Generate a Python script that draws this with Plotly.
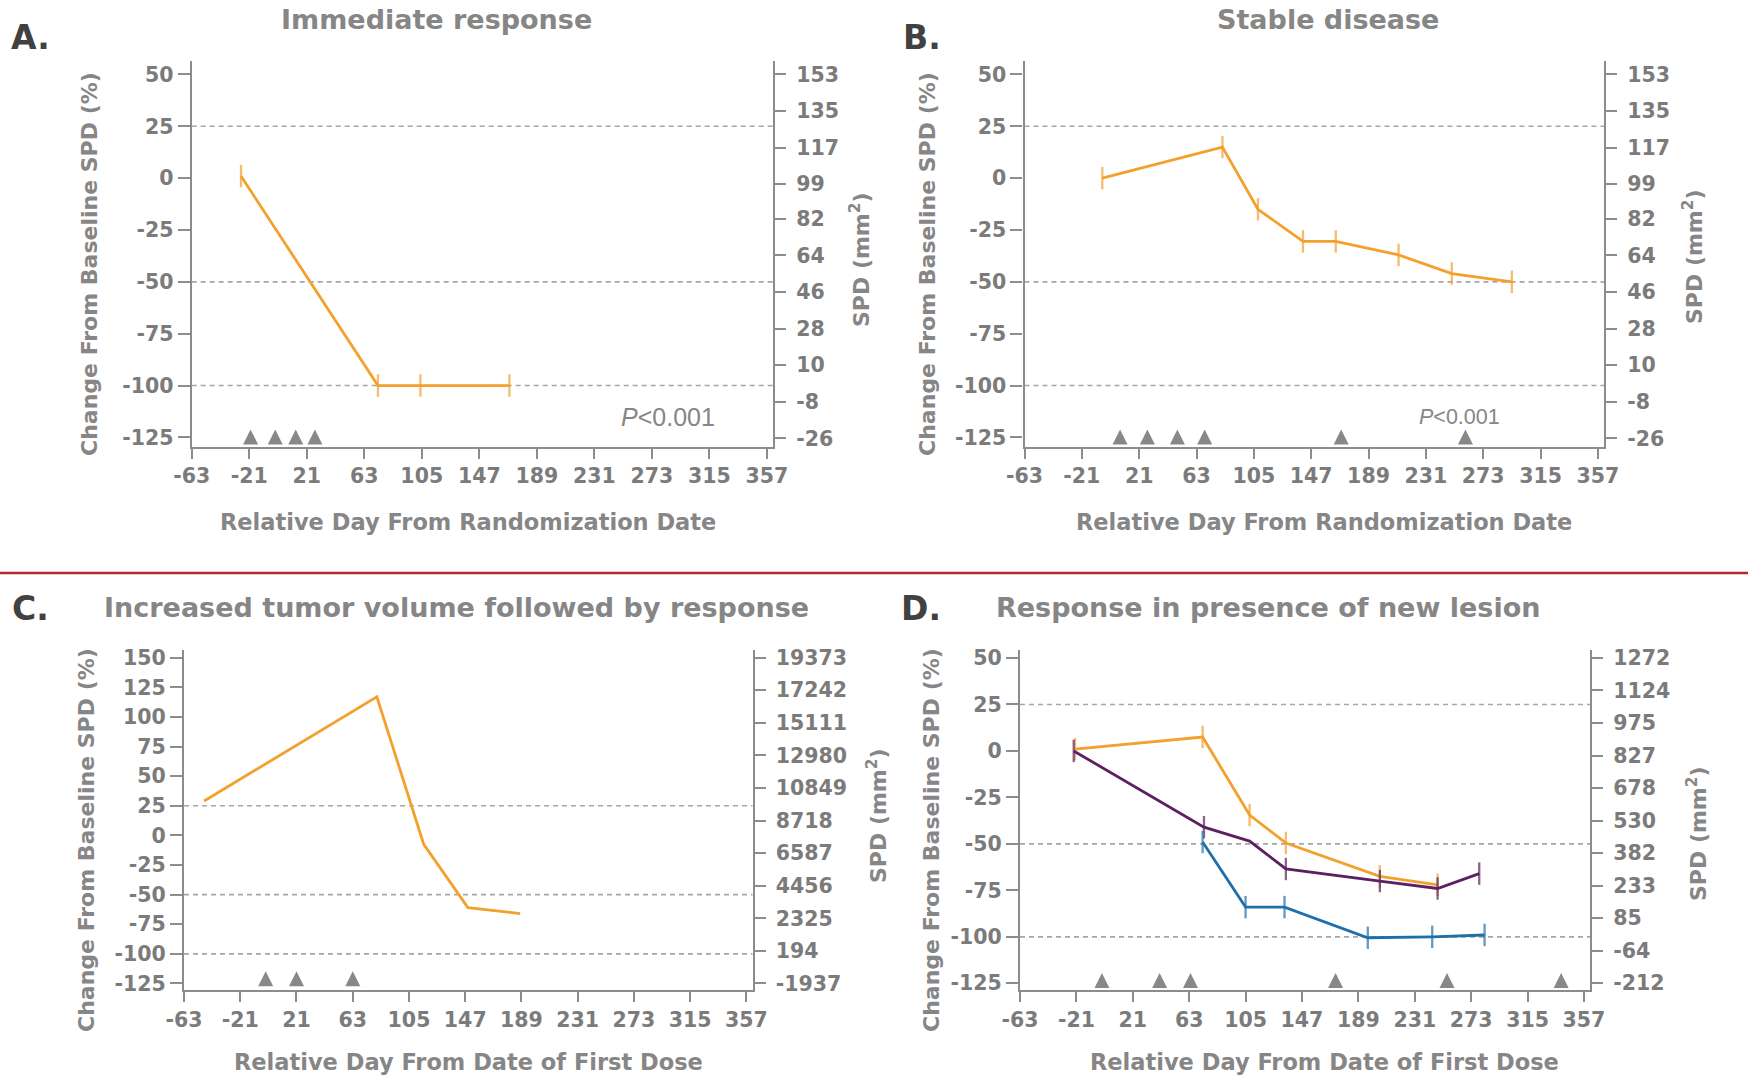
import plotly.graph_objects as go

# ---------------- data ----------------
x_ticks = [-63, -21, 21, 63, 105, 147, 189, 231, 273, 315, 357]
y_ticks_std = [50, 25, 0, -25, -50, -75, -100, -125]
y_ticks_C = [150, 125, 100, 75, 50, 25, 0, -25, -50, -75, -100, -125]
ref_lines = [25, -50, -100]

# Panel A: immediate response
days_A = [-27, 73, 104, 169]
pct_A = [1, -100, -100, -100]
doses_A = [-20, -2, 13, 27]
spd_base_A = 102
spd_ticks_A = [153, 135, 117, 99, 82, 64, 46, 28, 10, -8, -26]

# Panel B: stable disease
days_B = [-6, 82, 108, 141, 165, 211, 250, 294]
pct_B = [0, 15, -15, -30.5, -30.5, -37, -46, -50]
doses_B = [7, 27, 49, 69, 169, 260]
spd_base_B = 102
spd_ticks_B = [153, 135, 117, 99, 82, 64, 46, 28, 10, -8, -26]

# Panel C: increased tumor volume followed by response
days_C = [-48, 81, 116, 149, 188]
pct_C = [29, 117, -7.5, -61, -66]
doses_C = [-2, 21, 63]
spd_base_C = 7749
spd_ticks_C = [19373, 17242, 15111, 12980, 10849, 8718, 6587, 4456, 2325, 194, -1937]

# Panel D: response in presence of new lesion
days_D_orange = [-22, 73, 108, 135, 205, 248]
pct_D_orange = [1, 7.5, -34.5, -49.5, -67.5, -72]
days_D_purple = [-23, 74, 108, 135, 205, 248, 279]
pct_D_purple = [0, -41, -48.5, -63.5, -70, -74, -66]
tick_D_purple = [True, True, False, True, True, True, True]
days_D_blue = [73, 105, 134, 196, 244, 283]
pct_D_blue = [-49, -84, -84, -100.5, -100, -99]
doses_D = [-2, 41, 64, 172, 255, 340]
spd_base_D = 848
spd_ticks_D = [1272, 1124, 975, 827, 678, 530, 382, 233, 85, -64, -212]

# ---------------- styles ----------------
W, H = 1748, 1084
ORANGE = '#f3a02d'
PURPLE = '#5c2061'
BLUE = '#1f6fab'
GRAY = '#888888'
AX = '#8c8c8c'
TXT = '#7b7b7b'
TTL = '#868686'
DARK = '#414141'
FONT = 'DejaVu Sans'


def fx(px):
    return px / W


def fy(py):
    return 1 - py / H


panels = {
    'A': dict(ax='', xdom=(191.7, 773), ydom=(61, 446.7), yr=(-129.5, 56.5), tri=-121.2),
    'B': dict(ax='2', xdom=(1024.5, 1604), ydom=(61, 446.7), yr=(-129.5, 56.5), tri=-121.2),
    'C': dict(ax='3', xdom=(184, 752.5), ydom=(650, 990), yr=(-130.5, 156.5), tri=-114.6),
    'D': dict(ax='4', xdom=(1020, 1590), ydom=(650, 990), yr=(-128.6, 54.3), tri=-119.4),
}
right_ax = {'A': '5', 'B': '6', 'C': '7', 'D': '8'}
bases = {'A': spd_base_A, 'B': spd_base_B, 'C': spd_base_C, 'D': spd_base_D}
rticks = {'A': spd_ticks_A, 'B': spd_ticks_B, 'C': spd_ticks_C, 'D': spd_ticks_D}
dose_days = {'A': doses_A, 'B': doses_B, 'C': doses_C, 'D': doses_D}

fig = go.Figure()


def series(panel, xs, ys, color, markers=True, show=None):
    ax = panels[panel]['ax']
    tr = dict(x=xs, y=ys, xaxis='x' + ax, yaxis='y' + ax, showlegend=False,
              hoverinfo='skip', line=dict(color=color, width=2.8))
    if markers:
        sizes = [16 if (show is None or s) else 0 for s in (show or xs)]
        tr['mode'] = 'lines+markers'
        tr['marker'] = dict(symbol='line-ns', size=sizes,
                            line=dict(color=color, width=2.3), color=color)
    else:
        tr['mode'] = 'lines'
    fig.add_trace(go.Scatter(**tr))


series('A', days_A, pct_A, ORANGE)
series('B', days_B, pct_B, ORANGE)
series('C', days_C, pct_C, ORANGE, markers=False)
series('D', days_D_orange, pct_D_orange, ORANGE)
series('D', days_D_purple, pct_D_purple, PURPLE, show=tick_D_purple)
series('D', days_D_blue, pct_D_blue, BLUE)

layout = dict(width=W, height=H,
              margin=dict(l=0, r=0, t=0, b=0, pad=0, autoexpand=False),
              paper_bgcolor='white', plot_bgcolor='white', showlegend=False)

shapes = []
annotations = []

for p, cfg in panels.items():
    ax = cfg['ax']
    ra = right_ax[p]
    # dosing triangles
    fig.add_trace(go.Scatter(x=dose_days[p], y=[cfg['tri']] * len(dose_days[p]),
                             xaxis='x' + ax, yaxis='y' + ax, mode='markers',
                             marker=dict(symbol='arrow-up', size=15, color=GRAY,
                                         line=dict(width=0)),
                             showlegend=False, hoverinfo='skip'))
    # invisible trace for right axis
    fig.add_trace(go.Scatter(x=[None], y=[None], xaxis='x' + ax, yaxis='y' + ra,
                             showlegend=False, hoverinfo='skip'))
    common = dict(showline=True, linecolor=AX, linewidth=2.2, ticks='outside',
                  ticklen=12, tickwidth=2, tickcolor=AX, showgrid=False,
                  zeroline=False, fixedrange=True, automargin=False,
                  tickfont=dict(family=FONT, size=20.5, color=TXT, weight='bold'))
    layout['xaxis' + ax] = dict(common, domain=[fx(cfg['xdom'][0]), fx(cfg['xdom'][1])],
                                anchor='y' + ax, range=[-63, 361.5], tickvals=x_ticks,
                                ticktext=[str(v) for v in x_ticks], ticklen=10)
    yt = y_ticks_C if p == 'C' else y_ticks_std
    layout['yaxis' + ax] = dict(common, domain=[fy(cfg['ydom'][1]), fy(cfg['ydom'][0])],
                                anchor='x' + ax, range=list(cfg['yr']), tickvals=yt,
                                ticktext=[str(v) for v in yt])
    b = bases[p]
    layout['yaxis' + ra] = dict(common, overlaying='y' + ax, anchor='x' + ax, side='right',
                                range=[b * (1 + cfg['yr'][0] / 100), b * (1 + cfg['yr'][1] / 100)],
                                tickvals=rticks[p], ticktext=[str(v) for v in rticks[p]],
                                ticklen=11, ticklabelstandoff=6)
    xref = 'x' + ax + ' domain'
    for v in ref_lines:
        shapes.append(dict(type='line', xref=xref, yref='y' + ax, x0=0, x1=1, y0=v, y1=v,
                           line=dict(color='#a6a6a6', width=1.6, dash='5px,4px'), layer='below'))

# red separator
shapes.append(dict(type='line', xref='paper', yref='paper', x0=0, x1=1, y0=fy(573), y1=fy(573),
                   line=dict(color='#b3262d', width=2.5)))


def ann(text, x, y, size, color, bold=True, angle=0, xanchor='center', family=FONT):
    annotations.append(dict(text=text, x=fx(x), y=fy(y), xref='paper', yref='paper',
                            showarrow=False, textangle=angle, xanchor=xanchor, yanchor='middle',
                            font=dict(family=family, size=size, color=color,
                                      weight='bold' if bold else 'normal')))


# panel letters
for letter, (x, y) in {'A.': (31, 37), 'B.': (922, 37), 'C.': (31, 608), 'D.': (921, 608)}.items():
    ann(letter, x, y, 33, DARK)

# panel titles
ann('Immediate response', 436, 20, 27, TTL)
ann('Stable disease', 1328, 20, 27, TTL)
ann('Increased tumor volume followed by response', 102, 607, 27, TTL, xanchor='left')
ann('Response in presence of new lesion', 994, 607, 27, TTL, xanchor='left')

# axis titles
ylab = 'Change From Baseline SPD (%)'
rlab = 'SPD (mm<sup>2</sup>)'
ann(ylab, 89, 264, 22, TTL, angle=-90)
ann(ylab, 927, 264, 22, TTL, angle=-90)
ann(ylab, 86, 840, 22, TTL, angle=-90)
ann(ylab, 931, 840, 22, TTL, angle=-90)
ann(rlab, 860, 260, 22, TTL, angle=-90)
ann(rlab, 1693, 257, 22, TTL, angle=-90)
ann(rlab, 877, 815, 22, TTL, angle=-90)
ann(rlab, 1697, 834, 22, TTL, angle=-90)

ann('Relative Day From Randomization Date', 468, 522, 22.5, TTL)
ann('Relative Day From Randomization Date', 1324, 522, 22.5, TTL)
ann('Relative Day From Date of First Dose', 468, 1062, 22.5, TTL)
ann('Relative Day From Date of First Dose', 1324, 1062, 22.5, TTL)

# p-values
ann('<i>P</i>&lt;0.001', 668, 417, 25, TTL, bold=False, family='Liberation Sans')
ann('<i>P</i>&lt;0.001', 1459, 417, 21.5, TTL, bold=False, family='Liberation Sans')

layout['shapes'] = shapes
layout['annotations'] = annotations
fig.update_layout(**layout)
fig.write_html('out.html')
